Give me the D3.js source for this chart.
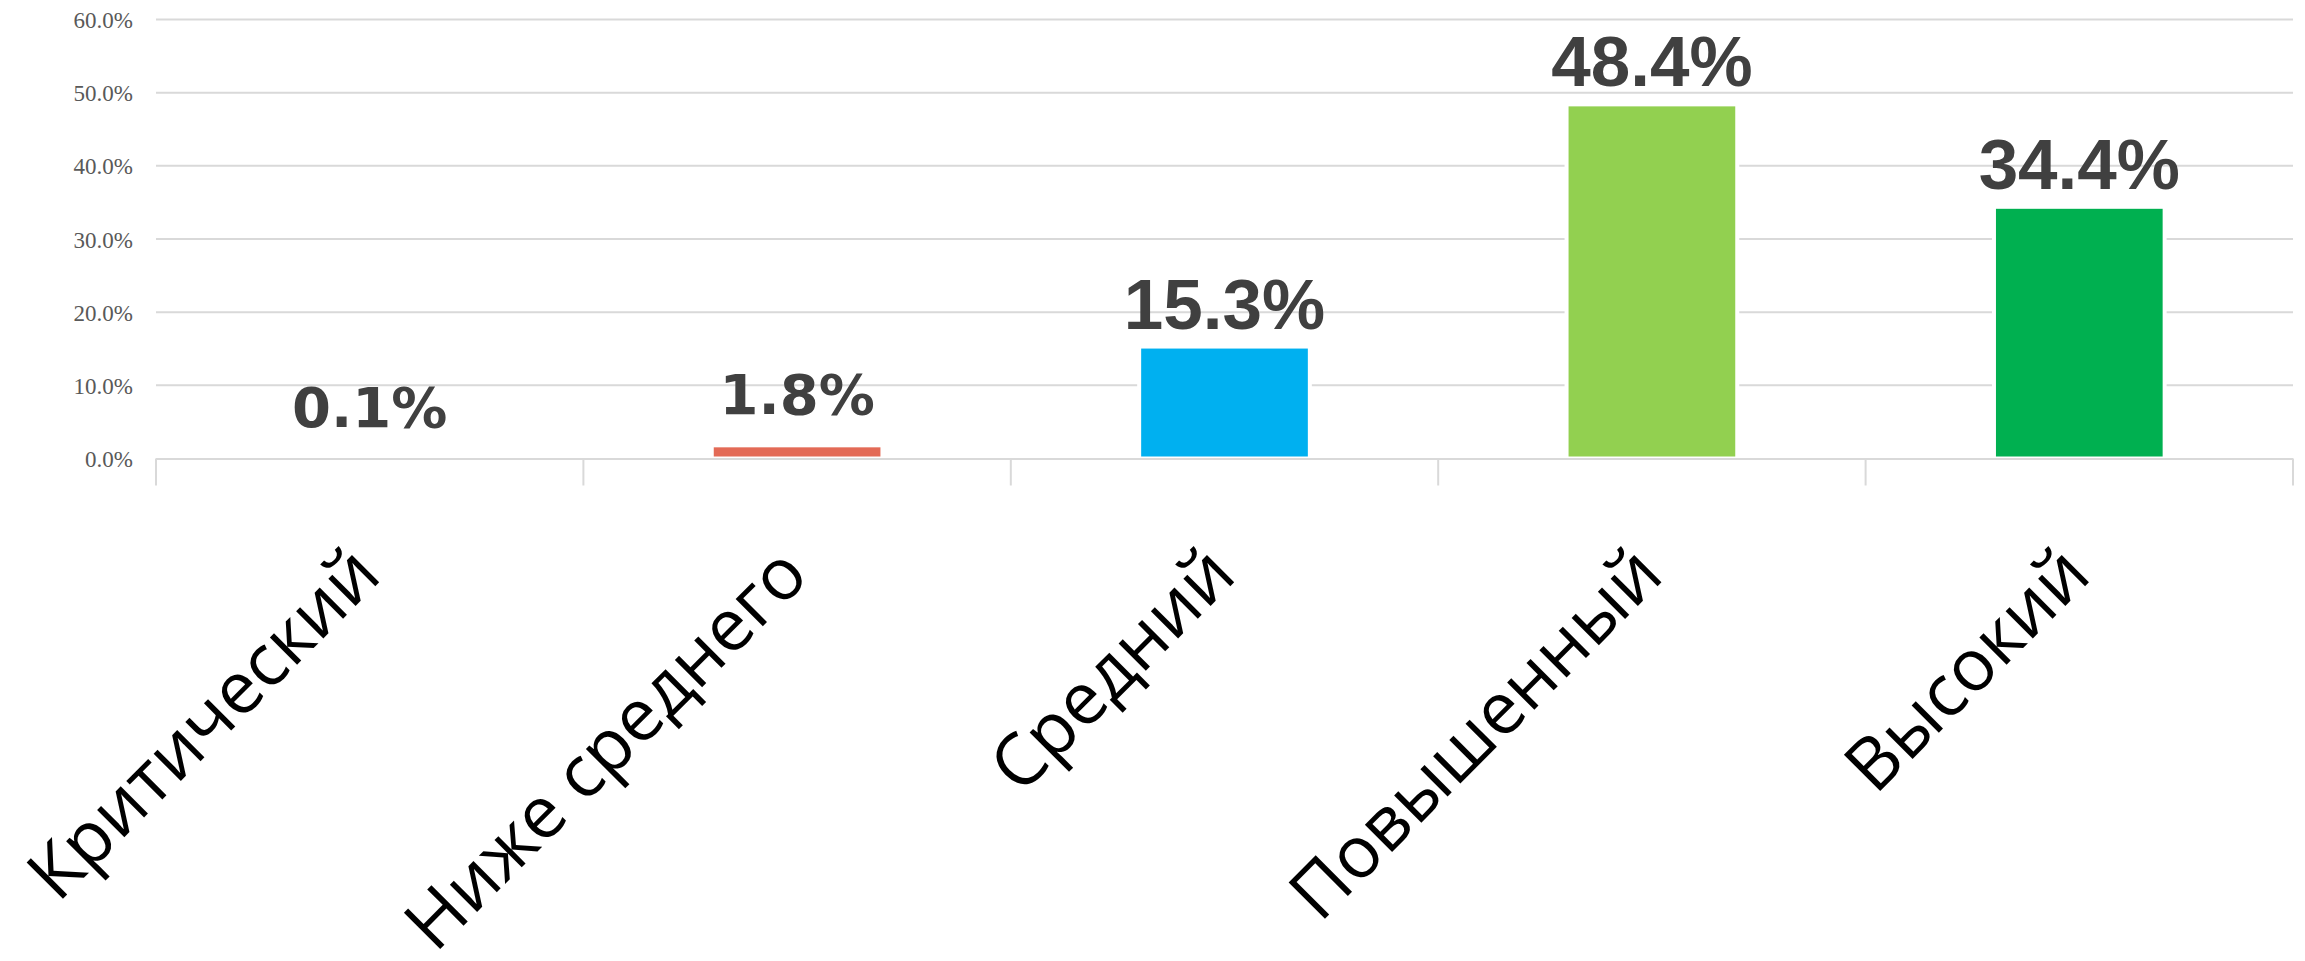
<!DOCTYPE html>
<html>
<head>
<meta charset="utf-8">
<script src="https://cdn.jsdelivr.net/npm/d3@7"></script>
<style>
  html, body { margin: 0; padding: 0; background: #fff; }
  svg { display: block; }
</style>
</head>
<body>
<div id="chart"></div>
<script>
var categories = ["Критический", "Ниже среднего", "Средний", "Повышенный", "Высокий"],
    values = [0.001, 0.018, 0.153, 0.484, 0.344],
    valueLabels = ["0.1%", "1.8%", "15.3%", "48.4%", "34.4%"],
    barColors = ["#C00000", "#E36A56", "#00B0F0", "#92D050", "#00B050"],
    yTicks = [0, 0.1, 0.2, 0.3, 0.4, 0.5, 0.6];

var width = 2305,
    height = 961,
    plotLeft = 156,
    plotRight = 2293,
    plotTop = 19.5,
    plotBottom = 458.5,
    grid = "#D9D9D9";

var svg = d3.select("#chart").append("svg")
    .attr("width", width)
    .attr("height", height);

var x = d3.scaleBand().domain(categories).range([plotLeft, plotRight]).paddingInner(0).paddingOuter(0);
var y = d3.scaleLinear().domain([0, 0.6]).range([plotBottom, plotTop]);

// gridlines
svg.append("g").selectAll("line")
    .data(yTicks.filter(function(d){ return d > 0; }))
  .enter().append("line")
    .attr("x1", plotLeft).attr("x2", plotRight)
    .attr("y1", function(d){ return y(d); })
    .attr("y2", function(d){ return y(d); })
    .style("stroke", grid)
    .style("stroke-width", 2);

// y labels
var yAxis = d3.axisLeft(y).tickValues(yTicks).tickSize(0).tickPadding(0)
    .tickFormat(function(d){ return (d * 100).toFixed(1) + "%"; });
var gy = svg.append("g").attr("transform", "translate(133,0)").call(yAxis);
gy.select(".domain").remove();
gy.selectAll("text")
    .attr("x", 0)
    .attr("dy", "0.35em")
    .style("font-family", "'Liberation Serif', 'Times New Roman', serif")
    .style("font-size", "23px")
    .style("fill", "#595959");

// bars
var bw = x.bandwidth() * 0.39 + 4;
svg.append("g").selectAll("rect")
    .data(values)
  .enter().append("rect")
    .attr("x", function(d, i){ return x(categories[i]) + x.bandwidth() / 2 - bw / 2; })
    .attr("y", function(d){ return y(d); })
    .attr("width", bw)
    .attr("height", function(d){ return Math.max(0, y(0) - y(d)); })
    .style("fill", function(d, i){ return barColors[i]; })
    .style("stroke", "#fff")
    .style("stroke-width", 4);

// baseline axis + category ticks
svg.append("line")
    .attr("x1", plotLeft).attr("x2", plotRight)
    .attr("y1", plotBottom + 0.5).attr("y2", plotBottom + 0.5)
    .style("stroke", grid).style("stroke-width", 2);

var bounds = categories.map(function(c){ return x(c); }).concat([plotRight]);
svg.append("g").selectAll("line")
    .data(bounds)
  .enter().append("line")
    .attr("x1", function(d){ return d; }).attr("x2", function(d){ return d; })
    .attr("y1", plotBottom).attr("y2", plotBottom + 27)
    .style("stroke", grid).style("stroke-width", 2);

// value labels (first two came out in a wider face in the original)
svg.append("g").selectAll("text")
    .data(values)
  .enter().append("text")
    .attr("x", function(d, i){ return x(categories[i]) + x.bandwidth() / 2; })
    .attr("y", function(d, i){ return y(d) - (i < 2 ? 31 : 18); })
    .attr("text-anchor", "middle")
    .style("font-family", function(d, i){ return i < 2 ? "'DejaVu Sans', sans-serif" : "'Liberation Sans', Arial, sans-serif"; })
    .style("font-weight", "bold")
    .style("font-size", function(d, i){ return i < 2 ? "56px" : "71px"; })
    .style("fill", "#404040")
    .text(function(d, i){ return valueLabels[i]; });

// category labels, rotated
svg.append("g").selectAll("text")
    .data(categories)
  .enter().append("text")
    .attr("transform", function(d){ return "translate(" + (x(d) + x.bandwidth() / 2 + 14) + ",578) rotate(-45)"; })
    .attr("text-anchor", "end")
    .style("font-family", "'Open Sans', 'Noto Sans', sans-serif")
    .style("font-size", "72px")
    .style("fill", "#000")
    .text(function(d){ return d; });
</script>
</body>
</html>
